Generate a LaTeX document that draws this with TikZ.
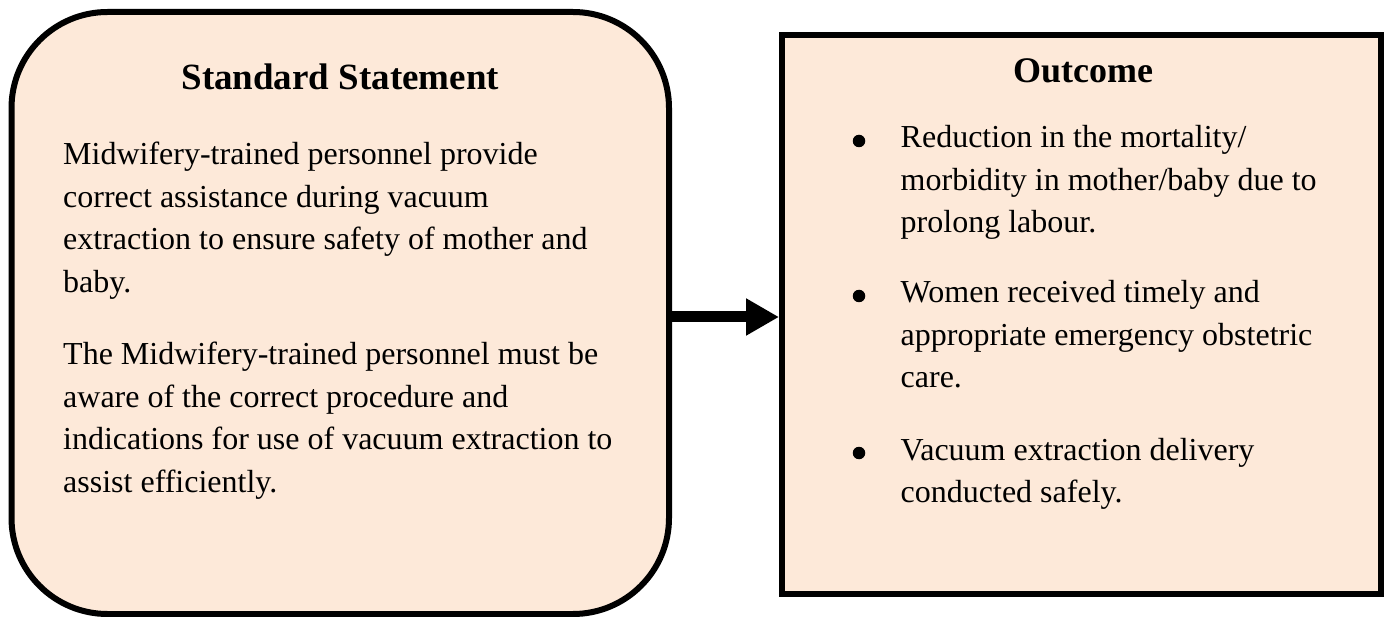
\documentclass[tikz,border=0pt]{standalone}
\usepackage{fontspec}
\setmainfont{Liberation Serif}
\usetikzlibrary{arrows.meta}
\definecolor{peach}{HTML}{FDE9D9}

\begin{document}
\begin{tikzpicture}[x=1pt,y=-1pt,
  box/.style={draw=black, line width=6pt, fill=peach, inner sep=0pt},
  heading/.style={font=\fontsize{37}{44}\selectfont\bfseries, anchor=base, inner sep=0pt},
  body/.style={font=\fontsize{32}{42.5}\selectfont, anchor=base west, inner sep=0pt},
  dot/.style={circle, fill=black, inner sep=0pt, minimum size=12.5pt},
  link/.style={line width=11pt, -{Triangle[length=33pt,width=35pt]}}]
\useasboundingbox (0,0) rectangle (1384,617);

% the two boxes
\node[box, rounded corners=96pt, minimum width=657.5pt, minimum height=602pt] (L) at (340.25,313) {};
\node[box, minimum width=599pt, minimum height=559pt] (R) at (1081.5,314.5) {};

% connector
\draw[link] ([yshift=-4pt]L.east) -- ([yshift=-2.5pt]R.west);

% left box text
\node[heading] (t1) at (340.25,90) {Standard Statement};
\node[body] (p1) at (63,165) {\parbox[t]{600pt}{\raggedright
Midwifery-trained personnel provide\\
correct assistance during vacuum\\
extraction to ensure safety of mother and\\
baby.\\[30pt]
The Midwifery-trained personnel must be\\
aware of the correct procedure and\\
indications for use of vacuum extraction to\\
assist efficiently.}};

% right box text
\node[heading, font=\fontsize{36}{44}\selectfont\bfseries] (t2) at (1083,83) {Outcome};

\node[dot] (b1) at (859,141) {};
\node[body] (o1) at (900.5,148) {\parbox[t]{460pt}{\raggedright
Reduction in the mortality/\\
morbidity in mother/baby due to\\
prolong labour.}};

\node[dot] (b2) at (859,296) {};
\node[body] (o2) at (900.5,303) {\parbox[t]{460pt}{\raggedright
Women received timely and\\
appropriate emergency obstetric\\
care.}};

\node[dot] (b3) at (859,453) {};
\node[body] (o3) at (900.5,460) {\parbox[t]{460pt}{\raggedright
Vacuum extraction delivery\\
conducted safely.}};
\end{tikzpicture}
\end{document}
